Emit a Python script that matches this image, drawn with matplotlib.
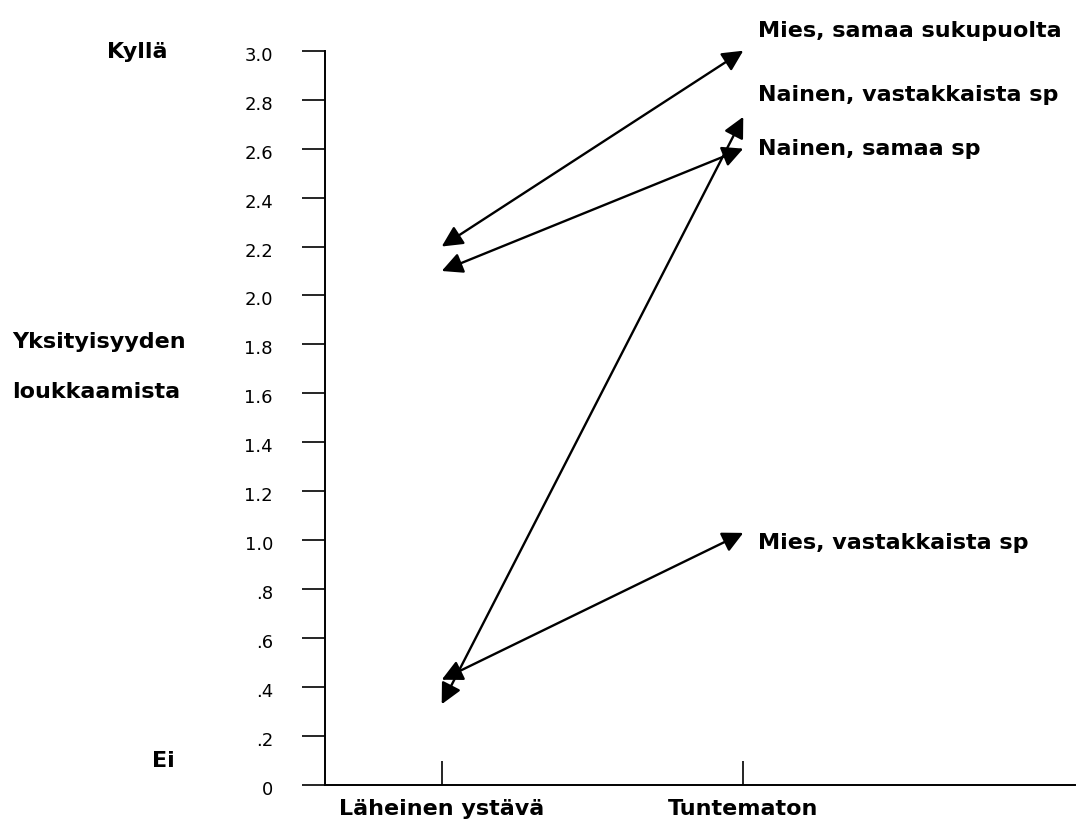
import matplotlib
matplotlib.use("Agg")
import matplotlib.pyplot as plt
from matplotlib.transforms import ScaledTranslation

plt.rcParams['font.family'] = ['DejaVu Sans']

# groups: value for close friend -> value for stranger
groups = ['Mies, samaa sukupuolta', 'Nainen, vastakkaista sp',
          'Nainen, samaa sp', 'Mies, vastakkaista sp']
friend = [2.20, 0.33, 2.10, 0.43]
stranger = [3.00, 2.73, 2.60, 1.03]
label_y = [3.08, 2.82, 2.60, 0.99]

categories = ['Läheinen ystävä', 'Tuntematon']
yticks = [0, .2, .4, .6, .8, 1.0, 1.2, 1.4, 1.6, 1.8, 2.0, 2.2, 2.4, 2.6, 2.8, 3.0]
ytick_labels = ['0', '.2', '.4', '.6', '.8', '1.0', '1.2', '1.4', '1.6', '1.8',
                '2.0', '2.2', '2.4', '2.6', '2.8', '3.0']

W, H = 1081, 824
fig = plt.figure(figsize=(W / 100, H / 100), dpi=100)
ax = fig.add_axes([325 / W, 1 - 785 / H, (1075 - 325) / W, (785 - 50.7) / H])

ax.set_xlim(0.613, 3.10)
ax.set_ylim(0, 3.0)
ax.spines['top'].set_visible(False)
ax.spines['right'].set_visible(False)
for s in ax.spines.values():
    s.set_linewidth(1.4)

ax.set_yticks(yticks)
ax.set_yticklabels(ytick_labels, fontsize=13)
ax.tick_params(axis='y', direction='out', length=16.5, width=1.2, pad=21)
# labels sit a little below their ticks in the original
shift = ScaledTranslation(0, -3 / 100, fig.dpi_scale_trans)
for t in ax.get_yticklabels():
    t.set_va('center_baseline')
    t.set_transform(t.get_transform() + shift)

ax.set_xticks([1, 2])
ax.set_xticklabels(categories, fontsize=16, fontweight='bold')
ax.tick_params(axis='x', direction='in', length=17, width=1.2, pad=10)

for g, a, b, ly in zip(groups, friend, stranger, label_y):
    ax.annotate('', xy=(2, b), xytext=(1, a),
                arrowprops=dict(arrowstyle='<|-|>,head_length=0.42,head_width=0.21',
                                mutation_scale=30, lw=1.7, color='black',
                                shrinkA=0, shrinkB=0))
    ax.text(2.05, ly, g, fontsize=16, fontweight='bold', va='center', ha='left',
            clip_on=False)

def ftext(x, y, s):
    fig.text(x / W, 1 - y / H, s, fontsize=16, fontweight='bold',
             ha='left', va='center')

ftext(107, 52, 'Kyllä')
ftext(12, 342, 'Yksityisyyden')
ftext(12, 392, 'loukkaamista')
ftext(152, 761, 'Ei')

fig.savefig('out.png', dpi=100)
